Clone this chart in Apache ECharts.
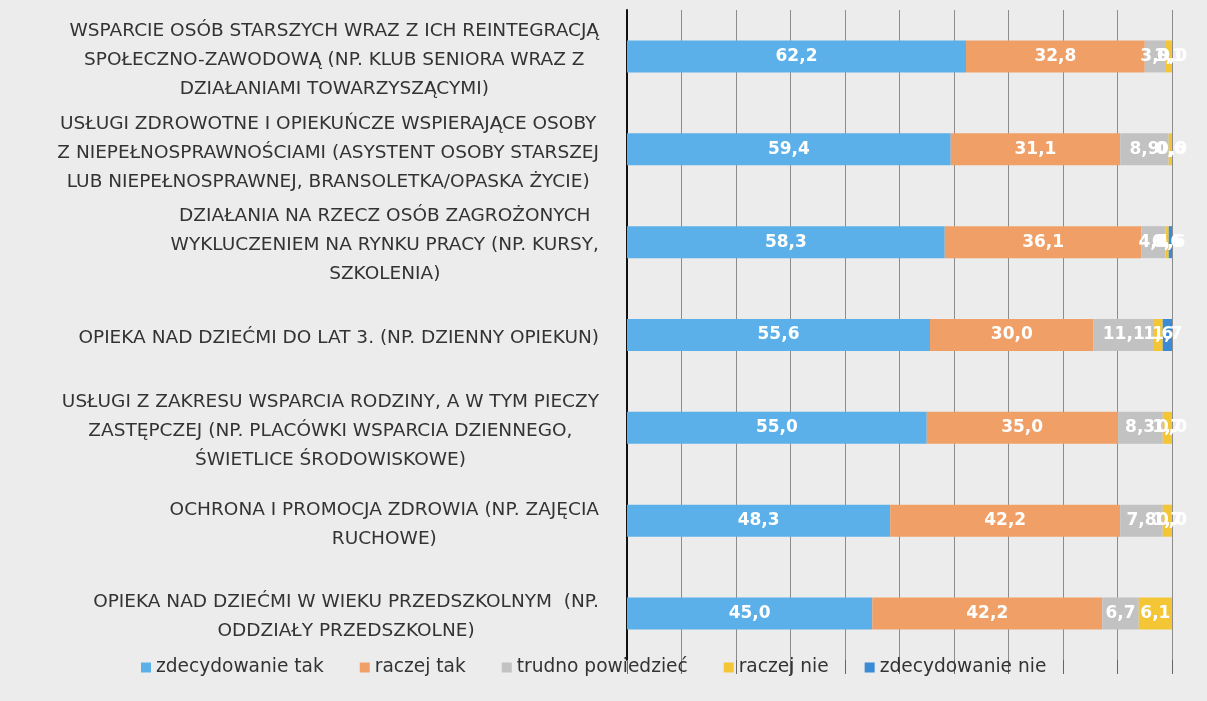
<!DOCTYPE html>
<html><head><meta charset="utf-8">
<script src="https://cdn.jsdelivr.net/npm/echarts@6/dist/echarts.min.js"></script>
<style>html,body{margin:0;padding:0;background:#ececec}#c{width:1207px;height:701px}</style>
</head><body><div id="c"></div>
<script>
const categories = [
  "WSPARCIE OSÓB STARSZYCH WRAZ Z ICH REINTEGRACJĄ\nSPOŁECZNO-ZAWODOWĄ (NP. KLUB SENIORA WRAZ Z\nDZIAŁANIAMI TOWARZYSZĄCYMI)",
  "USŁUGI ZDROWOTNE I OPIEKUŃCZE WSPIERAJĄCE OSOBY\nZ NIEPEŁNOSPRAWNOŚCIAMI (ASYSTENT OSOBY STARSZEJ\nLUB NIEPEŁNOSPRAWNEJ, BRANSOLETKA/OPASKA ŻYCIE)",
  "DZIAŁANIA NA RZECZ OSÓB ZAGROŻONYCH\nWYKLUCZENIEM NA RYNKU PRACY (NP. KURSY,\nSZKOLENIA)",
  "OPIEKA NAD DZIEĆMI DO LAT 3. (NP. DZIENNY OPIEKUN)",
  "USŁUGI Z ZAKRESU WSPARCIA RODZINY, A W TYM PIECZY\nZASTĘPCZEJ (NP. PLACÓWKI WSPARCIA DZIENNEGO,\nŚWIETLICE ŚRODOWISKOWE)",
  "OCHRONA I PROMOCJA ZDROWIA (NP. ZAJĘCIA\nRUCHOWE)",
  "OPIEKA NAD DZIEĆMI W WIEKU PRZEDSZKOLNYM  (NP.\nODDZIAŁY PRZEDSZKOLNE)"
];
const seriesNames = ["zdecydowanie tak", "raczej tak", "trudno powiedzieć", "raczej nie", "zdecydowanie nie"];
const zdecydowanieTak = [62.2, 59.4, 58.3, 55.6, 55.0, 48.3, 45.0];
const raczejTak       = [32.8, 31.1, 36.1, 30.0, 35.0, 42.2, 42.2];
const trudno          = [3.9, 8.9, 4.4, 11.1, 8.3, 7.8, 6.7];
const raczejNie       = [1.1, 0.6, 0.6, 1.6, 1.7, 1.7, 6.1];
const zdecydowanieNie = [0.0, 0.0, 0.6, 1.7, 0.0, 0.0, null];
const colors = ["#5cb0ea", "#f0a066", "#c2c2c2", "#f4c636", "#3a8ad6"];
const values = [zdecydowanieTak, raczejTak, trudno, raczejNie, zdecydowanieNie];

const chart = echarts.init(document.getElementById('c'));
chart.setOption({
  backgroundColor: '#ececec',
  animation: false,
  grid: {left: 627, right: 35, top: 10, bottom: 41},
  legend: {
    bottom: 19, left: 136, itemWidth: 10, itemHeight: 10, itemGap: 36,
    icon: 'rect',
    textStyle: {fontFamily: 'DejaVu Sans', fontSize: 18.6, color: '#333'},
    data: seriesNames
  },
  xAxis: {
    type: 'value', min: 0, max: 100, interval: 10,
    axisLabel: {show: false},
    axisLine: {show: false},
    axisTick: {show: true, length: 14, lineStyle: {color: '#666'}},
    splitLine: {show: true, lineStyle: {color: '#8c8c8c', width: 1}}
  },
  yAxis: {
    type: 'category', inverse: true, data: categories,
    axisLine: {show: true, lineStyle: {color: '#111', width: 2}},
    axisTick: {show: false},
    axisLabel: {
      interval: 0, showMinLabel: true, showMaxLabel: true, hideOverlap: false,
      margin: 28, align: 'right', lineHeight: 29, padding: [7, 0, 0, 0],
      formatter: v => v.split('\n').map(l => '{c|' + l + '}').join('\n'),
      rich: {c: {align: 'center', fontFamily: 'DejaVu Sans', fontSize: 18.5, color: '#333', lineHeight: 29}}
    }
  },
  series: seriesNames.map((n, i) => ({
    name: n, type: 'bar', stack: 'all', barWidth: 32,
    data: values[i],
    itemStyle: {color: colors[i]},
    label: {
      show: true, position: 'inside', color: '#fff', fontWeight: 'bold',
      fontFamily: 'DejaVu Sans', fontSize: 17,
      formatter: p => p.value == null ? '' : p.value.toFixed(1).replace('.', ',')
    }
  }))
});
</script></body></html>
